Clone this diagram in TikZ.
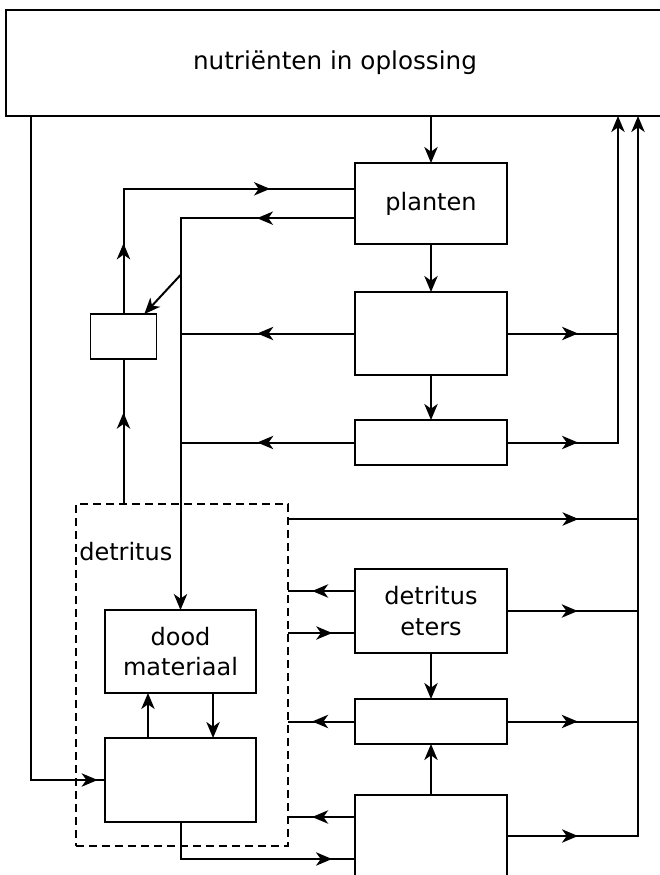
\documentclass[tikz,border=0pt]{standalone}
\usepackage{fontspec}
\setmainfont{DejaVu Sans}
\usetikzlibrary{arrows.meta,decorations.markings}

\begin{document}
\begin{tikzpicture}[x=0.75pt, y=-0.75pt,
    >={Stealth[length=12pt,width=10pt,inset=3.5pt]},
    every node/.style={font=\fontsize{18}{23}\selectfont},
    box/.style={draw, line width=1.1pt, rectangle, inner sep=0pt, outer sep=0pt, align=center},
    flow/.style={line width=1.5pt},
    marr/.style={postaction={decorate, decoration={markings, mark=at position #1 with {\arrow{>}}}}}]
    \useasboundingbox (0,0) rectangle (660,875);

    % Nutrients and plants
    \node[box, minimum width=493.5pt, minimum height=79.5pt, font=\fontsize{18.5}{23}\selectfont] (nutr) at (335,63) {nutriënten in oplossing};
    \node[box, minimum width=114pt, minimum height=60.75pt] (planten) at (431,203.5) {planten};
    \node[box, minimum width=114pt, minimum height=62.25pt] (cons1) at (431,333.5) {};
    \node[box, minimum width=114pt, minimum height=33.75pt] (cons2) at (431,442.5) {};
    \node[box, minimum width=49.5pt, minimum height=33.75pt] (small) at (123.5,336.5) {};

    % Detritus
    \node[box, dash pattern=on 6pt off 3.75pt, minimum width=159pt, minimum height=256.5pt] (detritus) at (182,675) {};
    \node[anchor=west, inner sep=0pt] (dlabel) at (79,552) {detritus};
    \node[box, minimum width=113.25pt, minimum height=62.25pt] (dood) at (180.5,651.5) {dood\\materiaal};
    \node[box, minimum width=113.25pt, minimum height=63pt] (decomp) at (180.5,780) {};

    % Detritus eaters
    \node[box, minimum width=114pt, minimum height=63pt] (eters) at (431,611) {detritus\\eters};
    \node[box, minimum width=114pt, minimum height=33.75pt] (pred1) at (431,721.5) {};
    \node[box, minimum width=114pt, minimum height=75pt] (pred2) at (431,845) {};

    \coordinate (feed) at (31,116);
    \coordinate (busA) at (618,116);
    \coordinate (busB) at (638,116);
    \coordinate (branch) at (180.5,275);
    \coordinate (dout) at ([yshift=-11.25pt]detritus.north east);
    \coordinate (eo) at ([yshift=15pt]eters.west);
    \coordinate (ei) at ([yshift=-16.5pt]eters.west);
    \coordinate (po) at ([yshift=21pt]pred2.west);
    \coordinate (pe) at ([yshift=6.75pt]pred2.east);
    \coordinate (pi) at ([yshift=-10.5pt]pred2.west);

    % Vertical chains
    \draw[flow, ->] (nutr.south -| planten) -- (planten);
    \draw[flow, ->] (planten) -- (cons1);
    \draw[flow, ->] (cons1) -- (cons2);
    \draw[flow, ->] (eters) -- (pred1);
    \draw[flow, ->] (pred2) -- (pred1);
    \draw[flow, ->] ([xshift=-24.4pt]decomp.north) -- ([xshift=-24.4pt]dood.south);
    \draw[flow, ->] ([xshift=24.4pt]dood.south) -- ([xshift=24.4pt]decomp.north);

    % Left side loops
    \draw[flow, marr=53pt, marr=203.8pt] (small.north) |- ([yshift=11pt]planten.west);
    \draw[flow, ->, marr=73.5pt] ([yshift=-11pt]planten.west) -| (dood.north);
    \draw[flow, ->] (branch) -- (small);
    \draw[flow, marr=0.56] (cons1.west) -- (cons1.west -| dood.north);
    \draw[flow, marr=0.56] (cons2.west) -- (cons2.west -| dood.north);
    \draw[flow, marr=0.63] (small |- detritus.north) -- (small);
    \draw[flow, marr=548pt] (feed) |- (decomp.west);
    \draw[flow, marr=141.4pt] (decomp.south) |- (pi);

    % Right side returns
    \draw[flow, marr=0.64] (cons1.east) -- (cons1.east -| busA);
    \draw[flow, ->, marr=53.25pt] (cons2.east) -| (busA);
    \draw[flow, marr=0.83] (dout) -- (dout -| busB);
    \draw[flow, marr=0.64] (eo) -- (eo -| detritus.east);
    \draw[flow, marr=0.66] (ei -| detritus.east) -- (ei);
    \draw[flow, marr=0.64] (pred1.west) -- (pred1.west -| detritus.east);
    \draw[flow, marr=0.64] (po) -- (po -| detritus.east);
    \draw[flow, marr=0.54] (eters.east) -- (eters.east -| busB);
    \draw[flow, marr=0.54] (pred1.east) -- (pred1.east -| busB);
    \draw[flow, ->, marr=53.25pt] (pe) -| (busB);
\end{tikzpicture}
\end{document}
